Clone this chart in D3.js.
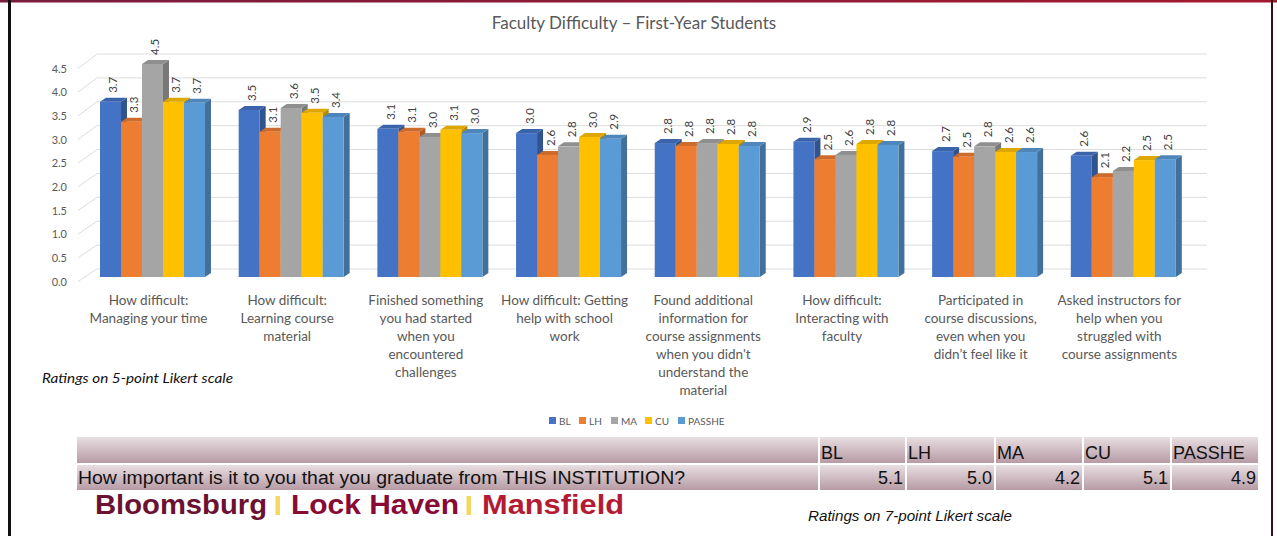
<!DOCTYPE html>
<html>
<head>
<meta charset="utf-8">
<title>Faculty Difficulty – First-Year Students</title>
<style>
  body { margin: 0; padding: 0; background: #fff; }
  svg { display: block; }
  .cat-label { font-family: Lato, "Open Sans", sans-serif; font-size: 13.5px; fill: #595959; }
  .tick-label { font-family: Lato, sans-serif; font-size: 11px; fill: #595959; }
  .val-label { font-family: Lato, sans-serif; font-size: 11.5px; fill: #404040; }
  .legend-label { font-family: Lato, sans-serif; font-size: 10px; fill: #595959; }
  .table-text { font-family: "Liberation Sans Narrow", "Liberation Sans", sans-serif; font-size: 18px; fill: #111; }
</style>
</head>
<body>
<svg width="1277" height="536"></svg>
<script src="https://cdn.jsdelivr.net/npm/d3@7"></script>
<script>
// chart data
var categories = [
  ["How difficult:", "Managing your time"],
  ["How difficult:", "Learning course", "material"],
  ["Finished something", "you had started", "when you", "encountered", "challenges"],
  ["How difficult: Getting", "help with school", "work"],
  ["Found additional", "information for", "course assignments", "when you didn't", "understand the", "material"],
  ["How difficult:", "Interacting with", "faculty"],
  ["Participated in", "course discussions,", "even when you", "didn’t feel like it"],
  ["Asked instructors for", "help when you", "struggled with", "course assignments"]
];
var series = ["BL", "LH", "MA", "CU", "PASSHE"];
var colors = ["#4472C4", "#ED7D31", "#A5A5A5", "#FFC000", "#5B9BD5"];
var BL     = [3.70, 3.53, 3.13, 3.04, 2.83, 2.86, 2.66, 2.56];
var LH     = [3.28, 3.07, 3.07, 2.58, 2.77, 2.49, 2.54, 2.11];
var MA     = [4.50, 3.57, 2.96, 2.76, 2.83, 2.58, 2.76, 2.24];
var CU     = [3.70, 3.47, 3.11, 2.96, 2.81, 2.81, 2.64, 2.47];
var PASSHE = [3.68, 3.38, 3.04, 2.92, 2.77, 2.79, 2.64, 2.49];
var yTicks = [0, 0.5, 1, 1.5, 2, 2.5, 3, 3.5, 4, 4.5];

// table data
var tableCols = ["BL", "LH", "MA", "CU", "PASSHE"];
var tableValues = [5.1, 5.0, 4.2, 5.1, 4.9];
var tableQuestion = "How important is it to you that you graduate from THIS INSTITUTION?";

var svg = d3.select("svg");
var valuesBySeries = [BL, LH, MA, CU, PASSHE];

// frame
var defs = svg.append("defs");
var topGrad = defs.append("linearGradient").attr("id", "topbar");
topGrad.append("stop").attr("offset", "0%").attr("stop-color", "#7a1c3e");
topGrad.append("stop").attr("offset", "100%").attr("stop-color", "#a3192f");
svg.append("rect").attr("x", 0).attr("y", 0).attr("width", 1277).attr("height", 2.5).attr("fill", "url(#topbar)");
svg.append("rect").attr("x", 8).attr("y", 0).attr("width", 3).attr("height", 536).attr("fill", "#111");
svg.append("rect").attr("x", 1271).attr("y", 0).attr("width", 2).attr("height", 536).attr("fill", "#3a0f18");

// title
svg.append("text")
  .attr("x", 634).attr("y", 29)
  .attr("text-anchor", "middle")
  .style("font-family", "Lato, sans-serif").style("font-size", "17px").style("fill", "#595959")
  .text("Faculty Difficulty – First-Year Students");

// scales
var y = d3.scaleLinear().domain([0, 4.5]).range([277, 64]);
var yBack = d3.scaleLinear().domain([0, 4.5]).range([269, 54]);
var x = d3.scaleBand().domain(d3.range(categories.length)).range([77.8, 1198])
  .paddingInner(0.243).paddingOuter(0.16);
var xs = d3.scaleBand().domain(series).range([0, x.bandwidth()]);
var depthX = 6, depthY = -4;

// gridlines (3D back wall)
var grid = svg.append("g").attr("stroke", "#dcdcdc").attr("stroke-width", 1).attr("fill", "none");
yTicks.forEach(function (t) {
  grid.append("path")
    .attr("d", "M78," + (y(t) + 4.5) + "L97," + yBack(t) + "L1207," + yBack(t));
});

// y tick labels
svg.append("g").selectAll("text").data(yTicks).join("text")
  .attr("class", "tick-label")
  .attr("x", 67).attr("y", function (d) { return y(d) + 8.5; })
  .attr("text-anchor", "end")
  .text(function (d) { return d3.format(".1f")(d); });

// bars
var fmt = d3.format(".1f");
var base = y(0);
series.forEach(function (s, si) {
  var c = d3.color(colors[si]);
  var side = c.darker(0.9).formatHex();
  var top = c.darker(0.4).formatHex();
  var g = svg.append("g");
  var data = valuesBySeries[si].map(function (v, ci) { return { v: v, ci: ci }; });
  var bx = function (d) { return x(d.ci) + xs(s); };
  var w = xs.bandwidth();
  g.selectAll("path.side").data(data).join("path")
    .attr("class", "side").attr("fill", side)
    .attr("d", function (d) {
      var x0 = bx(d) + w, yt = y(d.v);
      return "M" + x0 + "," + yt + "L" + (x0 + depthX) + "," + (yt + depthY) +
        "L" + (x0 + depthX) + "," + (base + depthY) + "L" + x0 + "," + base + "Z";
    });
  g.selectAll("path.top").data(data).join("path")
    .attr("class", "top").attr("fill", top)
    .attr("d", function (d) {
      var x0 = bx(d), yt = y(d.v);
      return "M" + x0 + "," + yt + "L" + (x0 + depthX) + "," + (yt + depthY) +
        "L" + (x0 + w + depthX) + "," + (yt + depthY) + "L" + (x0 + w) + "," + yt + "Z";
    });
  g.selectAll("rect").data(data).join("rect")
    .attr("x", bx).attr("y", function (d) { return y(d.v); })
    .attr("width", w).attr("height", function (d) { return base - y(d.v); })
    .attr("fill", colors[si]);
  g.selectAll("text").data(data).join("text")
    .attr("class", "val-label")
    .attr("transform", function (d) {
      return "translate(" + (bx(d) + w / 2 + 7) + "," + (y(d.v) - 9) + ") rotate(-90)";
    })
    .text(function (d) { return fmt(d.v); });
});

// category labels
var cats = svg.append("g");
categories.forEach(function (lines, ci) {
  var t = cats.append("text").attr("class", "cat-label").attr("text-anchor", "middle");
  lines.forEach(function (ln, li) {
    t.append("tspan").attr("x", x(ci) + x.bandwidth() / 2 - 4).attr("y", 305 + li * 18).text(ln);
  });
});

// notes
svg.append("text")
  .attr("x", 42).attr("y", 383)
  .attr("textLength", 191).attr("lengthAdjust", "spacingAndGlyphs")
  .style("font-family", "Lato, sans-serif").style("font-size", "14px").style("font-style", "italic").style("fill", "#111")
  .text("Ratings on 5-point Likert scale");

// legend
var legendX = [549, 579, 611, 645, 678];
var lg = svg.append("g");
series.forEach(function (s, si) {
  lg.append("rect").attr("x", legendX[si]).attr("y", 417).attr("width", 7).attr("height", 7).attr("fill", colors[si]);
  lg.append("text").attr("class", "legend-label").attr("x", legendX[si] + 10).attr("y", 424.5).text(s);
});

// table
var rowGrad = defs.append("linearGradient").attr("id", "rowgrad").attr("x1", 0).attr("y1", 0).attr("x2", 0).attr("y2", 1);
rowGrad.append("stop").attr("offset", "0%").attr("stop-color", "#e8dee1");
rowGrad.append("stop").attr("offset", "100%").attr("stop-color", "#b79ba4");
var colEdges = [77, 820, 907, 996, 1084, 1172, 1260];
var rows = [[437, 463], [465, 490]];
var tbl = svg.append("g");
rows.forEach(function (r) {
  for (var i = 0; i < colEdges.length - 1; i++) {
    tbl.append("rect")
      .attr("x", colEdges[i]).attr("y", r[0])
      .attr("width", colEdges[i + 1] - colEdges[i] - 2).attr("height", r[1] - r[0])
      .attr("fill", "url(#rowgrad)");
  }
});
tableCols.forEach(function (c, i) {
  tbl.append("text").attr("class", "table-text")
    .attr("x", colEdges[i + 1] + 1).attr("y", 459).text(c);
  tbl.append("text").attr("class", "table-text")
    .attr("x", colEdges[i + 2] - 4).attr("y", 484).attr("text-anchor", "end")
    .text(d3.format(".1f")(tableValues[i]));
});
tbl.append("text").attr("class", "table-text")
  .attr("x", 78).attr("y", 484)
  .attr("textLength", 607).attr("lengthAdjust", "spacingAndGlyphs")
  .text(tableQuestion);

// logo
var logo = svg.append("g").style("font-family", "'Liberation Sans Narrow', 'Liberation Sans', sans-serif")
  .style("font-weight", "bold").style("font-size", "28px");
var logoParts = [
  { t: "Bloomsburg", x: 95, w: 172, c: "#6b1232" },
  { t: "Lock Haven", x: 291, w: 168, c: "#880b36" },
  { t: "Mansfield", x: 482, w: 142, c: "#b31a33" }
];
logoParts.forEach(function (p) {
  logo.append("text").attr("x", p.x).attr("y", 514)
    .attr("textLength", p.w).attr("lengthAdjust", "spacingAndGlyphs")
    .attr("fill", p.c).text(p.t);
});
[275.5, 466.5].forEach(function (sx) {
  svg.append("rect").attr("x", sx).attr("y", 496).attr("width", 4.5).attr("height", 19).attr("fill", "#f6d65e");
});

svg.append("text")
  .attr("x", 808).attr("y", 521)
  .attr("textLength", 204).attr("lengthAdjust", "spacingAndGlyphs")
  .style("font-family", "'Liberation Sans Narrow', 'Liberation Sans', sans-serif")
  .style("font-size", "15px").style("font-style", "italic").style("fill", "#111")
  .text("Ratings on 7-point Likert scale");
</script>
</body>
</html>
